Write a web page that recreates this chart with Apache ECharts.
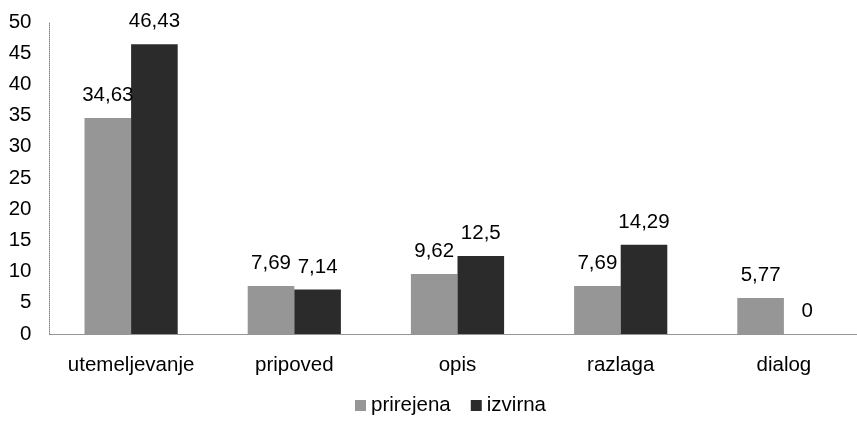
<!DOCTYPE html>
<html><head><meta charset="utf-8">
<script src="https://cdn.jsdelivr.net/npm/echarts@6/dist/echarts.min.js"></script>
<style>html,body{margin:0;padding:0;background:#fff}#c{width:857px;height:436px}</style>
</head><body><div id="c"></div>
<script>
var categories = ['utemeljevanje', 'pripoved', 'opis', 'razlaga', 'dialog'];
var prirejena = [34.63, 7.69, 9.62, 7.69, 5.77];
var izvirna = [46.43, 7.14, 12.5, 14.29, 0];
var seriesNames = ['prirejena', 'izvirna'];
var fmt = function (p) { return String(p.value).replace('.', ','); };
var font = 'Liberation Sans, Arial, sans-serif';
var fs = 20.5;
var chart = echarts.init(document.getElementById('c'));
chart.setOption({
  animation: false,
  textStyle: { fontFamily: font },
  grid: { left: 49.5, top: 22, width: 816, bottom: 102, containLabel: false, outerBoundsMode: 'none' },
  legend: {
    data: seriesNames, bottom: 15, left: 350, itemWidth: 11, itemHeight: 11, itemGap: 20,
    icon: 'rect', textStyle: { fontSize: fs, color: '#000', fontFamily: font }
  },
  xAxis: {
    type: 'category', data: categories,
    axisLine: { lineStyle: { color: '#888', type: 'dotted', width: 1 } },
    axisTick: { show: false },
    axisLabel: { fontSize: fs, color: '#000', margin: 21, interval: 0, fontFamily: font }
  },
  yAxis: {
    type: 'value', min: 0, max: 50, interval: 5,
    axisLine: { show: true, lineStyle: { color: '#888', type: 'dotted', width: 1 } },
    axisTick: { show: false }, splitLine: { show: false },
    axisLabel: { fontSize: fs, color: '#000', margin: 18, fontFamily: font }
  },
  series: [
    { name: seriesNames[0], type: 'bar', data: prirejena, barGap: '0%', barWidth: 46.6,
      itemStyle: { color: '#969696' },
      label: { show: true, position: 'top', distance: 12, fontSize: fs, color: '#000', formatter: fmt, fontFamily: font } },
    { name: seriesNames[1], type: 'bar', data: izvirna, barGap: '0%', barWidth: 46.6,
      itemStyle: { color: '#2b2b2b' },
      label: { show: true, position: 'top', distance: 12, fontSize: fs, color: '#000', formatter: fmt, fontFamily: font } }
  ]
});
</script></body></html>
